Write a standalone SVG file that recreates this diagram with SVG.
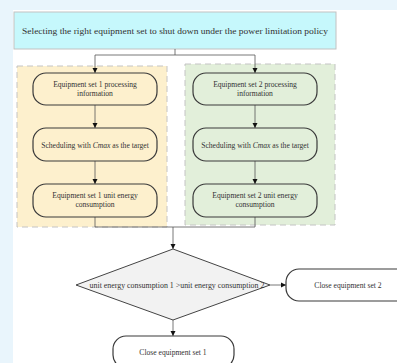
<svg xmlns="http://www.w3.org/2000/svg" width="397" height="363" viewBox="0 0 397 363">
<defs>
<marker id="arr" markerWidth="6" markerHeight="6" refX="5" refY="3" orient="auto" markerUnits="userSpaceOnUse">
<path d="M0,0.5 L5,3 L0,5.5 z" fill="#111"/>
</marker>
<style>
text{font-family:"Liberation Serif","Times New Roman",serif;fill:#333;text-anchor:middle}
.t{font-size:7.6px}
.node{stroke:#3a3a3a;stroke-width:1.2}
.panel{stroke:#c4c4c4;stroke-width:1;stroke-dasharray:6,4}
.conn{fill:none;stroke:#555;stroke-width:0.8}
</style>
</defs>
<rect x="0" y="0" width="397" height="363" fill="#e9f5fc"/>
<rect x="13" y="10" width="384" height="353" fill="#ffffff"/>

<g id="title">
<rect x="14" y="12" width="322" height="37" fill="#c6f8fc" stroke="#c2c2c2" stroke-width="1"/>
<text x="175" y="33.5" font-size="8.5" textLength="306" lengthAdjust="spacingAndGlyphs">Selecting the right equipment set to shut down under the power limitation policy</text>
</g>

<g id="panel1">
<rect class="panel" x="17" y="66" width="150" height="161" fill="#fdf0cd"/>
</g>
<g id="panel2">
<rect class="panel" x="185" y="64" width="150" height="161" fill="#e2efda"/>
</g>

<g id="connectors">
<path class="conn" d="M175,49 V55 M95,55 H255"/>
<path class="conn" d="M95,55 V73" marker-end="url(#arr)"/>
<path class="conn" d="M255,55 V73" marker-end="url(#arr)"/>
<path class="conn" d="M95,105 V128" marker-end="url(#arr)"/>
<path class="conn" d="M255,105 V128" marker-end="url(#arr)"/>
<path class="conn" d="M95,161 V184" marker-end="url(#arr)"/>
<path class="conn" d="M255,161 V184" marker-end="url(#arr)"/>
<path class="conn" d="M95,217 V227 H255 V217"/>
<path class="conn" d="M173,227 V249" marker-end="url(#arr)"/>
<path class="conn" d="M270,285 H286" marker-end="url(#arr)"/>
<path class="conn" d="M173,320 V336" marker-end="url(#arr)"/>
</g>

<g id="n1a">
<rect class="node" x="33" y="73" width="124" height="32" rx="13" fill="#fdf0cd"/>
<text class="t" x="95" y="86.5">Equipment set 1 processing</text>
<text class="t" x="95" y="95.5">information</text>
</g>
<g id="n1b">
<rect class="node" x="33" y="128" width="124" height="33" rx="13" fill="#fdf0cd"/>
<text class="t" x="95" y="147.5">Scheduling with <tspan font-style="italic">Cmax</tspan> as the target</text>
</g>
<g id="n1c">
<rect class="node" x="33" y="184" width="124" height="33" rx="13" fill="#fdf0cd"/>
<text class="t" x="95" y="197.5">Equipment set 1 unit energy</text>
<text class="t" x="95" y="206.5">consumption</text>
</g>

<g id="n2a">
<rect class="node" x="193" y="73" width="124" height="32" rx="13" fill="#e2efda"/>
<text class="t" x="255" y="86.5">Equipment set 2 processing</text>
<text class="t" x="255" y="95.5">information</text>
</g>
<g id="n2b">
<rect class="node" x="193" y="128" width="124" height="33" rx="13" fill="#e2efda"/>
<text class="t" x="255" y="147.5">Scheduling with <tspan font-style="italic">Cmax</tspan> as the target</text>
</g>
<g id="n2c">
<rect class="node" x="193" y="184" width="124" height="33" rx="13" fill="#e2efda"/>
<text class="t" x="255" y="197.5">Equipment set 2 unit energy</text>
<text class="t" x="255" y="206.5">consumption</text>
</g>

<g id="decision">
<polygon points="173,249 270,285 173,320 76,285" fill="#f2f2f2" stroke="#444" stroke-width="1"/>
<text x="177" y="287.5" font-size="7.9">unit energy consumption 1 &gt;unit energy consumption 2</text>
</g>

<g id="close2">
<rect class="node" x="286" y="269" width="124" height="32" rx="13" fill="#ffffff"/>
<text class="t" x="348" y="287.5">Close equipment set 2</text>
</g>
<g id="close1">
<rect class="node" x="113" y="336" width="121" height="32" rx="13" fill="#ffffff"/>
<text class="t" x="173" y="354.5">Close equipment set 1</text>
</g>
</svg>
